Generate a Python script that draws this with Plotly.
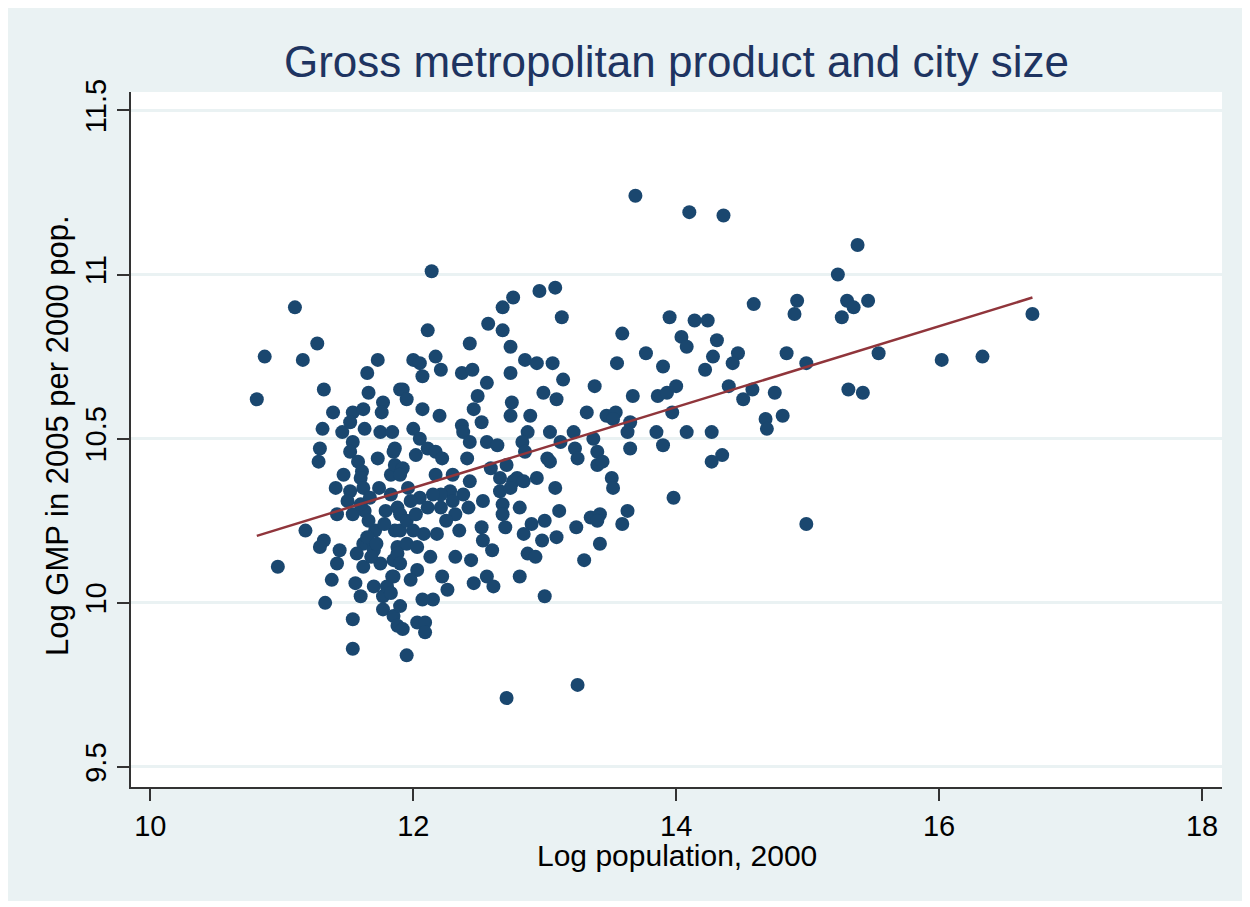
import numpy as np
import plotly.graph_objects as go

# Log population, 2000
log_pop = [
    13.69, 14.10, 14.36, 13.08, 13.13, 13.59, 13.95, 14.14, 14.24, 14.59, 14.92, 14.90, 14.04, 14.08, 14.31,
    13.77, 14.28, 14.47, 14.84, 13.06, 13.55, 13.90, 14.22, 14.43, 14.99, 13.14, 13.38, 13.09, 13.67, 13.86,
    13.93, 14.00, 14.40, 14.51, 14.58, 14.75, 13.32, 13.47, 13.54, 13.52, 13.97, 14.68, 14.69, 14.81, 13.04,
    13.22, 13.37, 13.65, 13.63, 13.85, 14.08, 14.27, 13.12, 13.23, 13.90, 13.65, 13.04, 13.25, 13.40, 13.40,
    13.44, 14.27, 14.35, 13.51, 13.52, 13.08, 13.98, 13.11, 13.35, 13.42, 13.40, 13.63, 13.59, 13.24, 13.09,
    13.42, 13.30, 14.99,
    15.38, 15.23, 15.30, 15.35, 15.46, 15.26, 16.71, 15.54, 16.02, 16.33, 15.31, 15.42,
    11.10, 11.27, 10.87, 11.16, 10.81, 11.32, 11.73, 11.65, 11.66, 11.90, 11.39, 11.54, 11.62, 11.77, 11.76,
    11.31, 11.46, 11.52, 11.63, 11.75, 11.84, 11.29, 11.28, 11.54, 11.52, 11.58, 11.73, 11.85, 11.47, 11.61,
    11.83,
    11.41, 11.52, 11.60, 11.62, 11.50, 11.42, 11.54, 11.63, 11.83, 11.79, 11.88, 11.18, 11.32, 11.29, 10.97,
    11.44, 11.42, 11.38, 11.33, 11.54, 11.54, 11.71, 11.62, 11.57, 11.70, 11.75, 11.62, 11.56, 11.60, 11.70,
    11.77, 11.84, 11.80, 11.77, 11.85, 11.88, 11.86, 11.88, 11.85,
    12.76, 12.68, 12.96, 12.11, 12.57, 12.68, 12.43, 12.74, 12.00, 12.05, 12.17, 12.07, 12.21, 12.37, 12.45,
    12.56, 12.85, 12.94, 12.74, 11.92, 11.95, 12.49, 12.99, 12.07, 12.20, 12.46, 12.75, 12.74, 12.89, 12.52,
    12.37, 12.00, 12.38, 12.05, 12.43, 12.56, 12.64, 12.87, 12.83, 12.85, 11.86, 12.11, 12.02, 11.86, 11.92,
    12.17, 12.22, 12.41, 12.17, 12.30, 12.59, 12.71, 13.02, 12.79, 12.14,
    11.90, 12.66, 12.76, 12.84, 12.94, 12.66, 12.74, 12.43, 12.38, 12.28, 12.21, 12.05, 11.98, 12.53, 12.42,
    12.32, 12.21, 12.11, 11.90, 12.68, 12.81, 12.68, 12.70, 12.90, 13.00, 12.84, 12.98, 12.52, 12.53, 12.60,
    12.35, 12.18, 12.08, 11.90, 11.95, 12.03, 11.88, 12.13, 12.32, 12.44, 12.87, 12.93, 11.90, 11.85, 12.03,
    11.98, 12.22, 12.26, 12.46, 12.56, 12.61, 12.81, 12.15, 12.07, 13.00, 11.83, 11.90, 12.03, 12.09, 12.09,
    11.92, 11.95, 12.71, 13.25,
    11.65, 11.68, 11.72, 11.66, 11.78, 11.60, 11.67, 11.74, 11.95, 12.00, 11.96, 12.02, 12.25, 12.30, 12.15,
]

# Log GMP in 2005 per 2000 population
log_gmp = [
    11.24, 11.19, 11.18, 10.96, 10.87, 10.82, 10.87, 10.86, 10.86, 10.91, 10.92, 10.88, 10.81, 10.78, 10.80,
    10.76, 10.75, 10.76, 10.76, 10.73, 10.73, 10.72, 10.71, 10.73, 10.73, 10.68, 10.66, 10.62, 10.63, 10.63,
    10.64, 10.66, 10.66, 10.62, 10.65, 10.64, 10.58, 10.57, 10.58, 10.56, 10.58, 10.56, 10.53, 10.57, 10.52,
    10.52, 10.50, 10.55, 10.52, 10.52, 10.52, 10.52, 10.49, 10.47, 10.48, 10.47, 10.43, 10.44, 10.46, 10.42,
    10.43, 10.43, 10.45, 10.38, 10.35, 10.35, 10.32, 10.28, 10.26, 10.27, 10.25, 10.28, 10.24, 10.23, 10.20,
    10.18, 10.13, 10.24,
    11.09, 11.00, 10.92, 10.90, 10.92, 10.87, 10.88, 10.76, 10.74, 10.75, 10.65, 10.64,
    10.90, 10.79, 10.75, 10.74, 10.62, 10.65, 10.74, 10.70, 10.64, 10.65, 10.58, 10.58, 10.59, 10.61, 10.58,
    10.53, 10.52, 10.55, 10.53, 10.52, 10.52, 10.47, 10.43, 10.49, 10.46, 10.43, 10.44, 10.46, 10.39, 10.40,
    10.39,
    10.35, 10.34, 10.38, 10.35, 10.31, 10.27, 10.27, 10.28, 10.33, 10.28, 10.29, 10.22, 10.19, 10.17, 10.11,
    10.16, 10.12, 10.07, 10.00, 9.95, 9.86, 10.22, 10.18, 10.15, 10.16, 10.12, 10.11, 10.06, 10.02, 10.05,
    10.02, 10.08, 10.05, 9.98, 9.96, 9.93, 10.22, 10.17, 10.13,
    10.93, 10.90, 10.95, 10.83, 10.85, 10.83, 10.79, 10.78, 10.74, 10.73, 10.75, 10.69, 10.71, 10.70, 10.71,
    10.67, 10.74, 10.73, 10.70, 10.65, 10.62, 10.63, 10.64, 10.59, 10.57, 10.59, 10.61, 10.57, 10.57, 10.55,
    10.54, 10.53, 10.52, 10.50, 10.49, 10.49, 10.48, 10.52, 10.49, 10.46, 10.47, 10.47, 10.45, 10.42, 10.41,
    10.46, 10.44, 10.44, 10.39, 10.39, 10.41, 10.42, 10.44, 10.38, 11.01,
    10.39, 10.38, 10.37, 10.37, 10.38, 10.34, 10.35, 10.37, 10.33, 10.34, 10.33, 10.32, 10.31, 10.31, 10.29,
    10.27, 10.29, 10.29, 10.27, 10.30, 10.29, 10.27, 10.23, 10.24, 10.25, 10.21, 10.19, 10.23, 10.19, 10.16,
    10.22, 10.21, 10.21, 10.22, 10.18, 10.17, 10.15, 10.14, 10.14, 10.13, 10.15, 10.14, 10.12, 10.08, 10.10,
    10.07, 10.08, 10.04, 10.06, 10.08, 10.05, 10.08, 10.01, 10.01, 10.02, 10.03, 9.99, 9.94, 9.94, 9.91,
    9.92, 9.84, 9.71, 9.75,
    10.20, 10.14, 10.18, 10.25, 10.24, 10.30, 10.32, 10.35, 10.25, 10.22, 10.35, 10.27, 10.25, 10.31, 10.33,
]

x_ticks = [10, 12, 14, 16, 18]
y_ticks = [9.5, 10, 10.5, 11, 11.5]
y_tick_text = ["9.5", "10", "10.5", "11", "11.5"]

title_text = "Gross metropolitan product and city size"
x_title = "Log population, 2000"
y_title = "Log GMP in 2005 per 2000 pop."

xa = np.array(log_pop)
ya = np.array(log_gmp)
slope, intercept = np.polyfit(xa, ya, 1)
fit_x = np.array([xa.min(), xa.max()])
fit_y = intercept + slope * fit_x

FONT = "Liberation Sans, Arial, sans-serif"
BG = "#EAF2F3"

fig = go.Figure()
fig.add_trace(go.Scatter(
    x=log_pop, y=log_gmp, mode="markers",
    marker=dict(color="#1A476F", size=14, line=dict(width=0)),
    showlegend=False, hoverinfo="x+y",
))
fig.add_trace(go.Scatter(
    x=fit_x, y=fit_y, mode="lines",
    line=dict(color="#90353B", width=2.5),
    showlegend=False,
))

fig.update_layout(
    width=1238, height=893,
    margin=dict(l=123, r=24, t=84, b=114),
    paper_bgcolor=BG,
    plot_bgcolor="white",
    font=dict(family=FONT, color="black"),
    title=dict(text=title_text, x=0.5, xref="paper", y=1 - 54 / 893, yref="container",
               xanchor="center", yanchor="middle",
               font=dict(size=44, color="#1E3461", family=FONT)),
    annotations=[
        dict(text=x_title, xref="paper", yref="paper", x=0.5, y=(779 - 847) / 695,
             xanchor="center", yanchor="middle", showarrow=False,
             font=dict(size=30, color="black", family=FONT)),
        dict(text=y_title, xref="paper", yref="paper", x=(49 - 123) / 1091, y=(779 - 428) / 695,
             xanchor="center", yanchor="middle", showarrow=False, textangle=-90,
             font=dict(size=31, color="black", family=FONT)),
    ],
)

fig.update_xaxes(
    range=[9.853, 18.152], tickvals=x_ticks, ticktext=[str(t) for t in x_ticks],
    showgrid=False, zeroline=False,
    showline=True, linecolor="#333333", linewidth=1.5,
    ticks="outside", ticklen=12, tickwidth=1.5, tickcolor="#333333",
    tickfont=dict(size=29, color="black", family=FONT),
)
fig.update_yaxes(
    range=[9.439, 11.556], tickvals=y_ticks, ticktext=y_tick_text,
    showgrid=True, gridcolor=BG, gridwidth=2.5, zeroline=False,
    showline=True, linecolor="#333333", linewidth=1.5,
    ticks="outside", ticklen=12, tickwidth=1.5, tickcolor="#333333",
    tickangle=-90,
    tickfont=dict(size=29, color="black", family=FONT),
)

fig.write_html("out.html")
